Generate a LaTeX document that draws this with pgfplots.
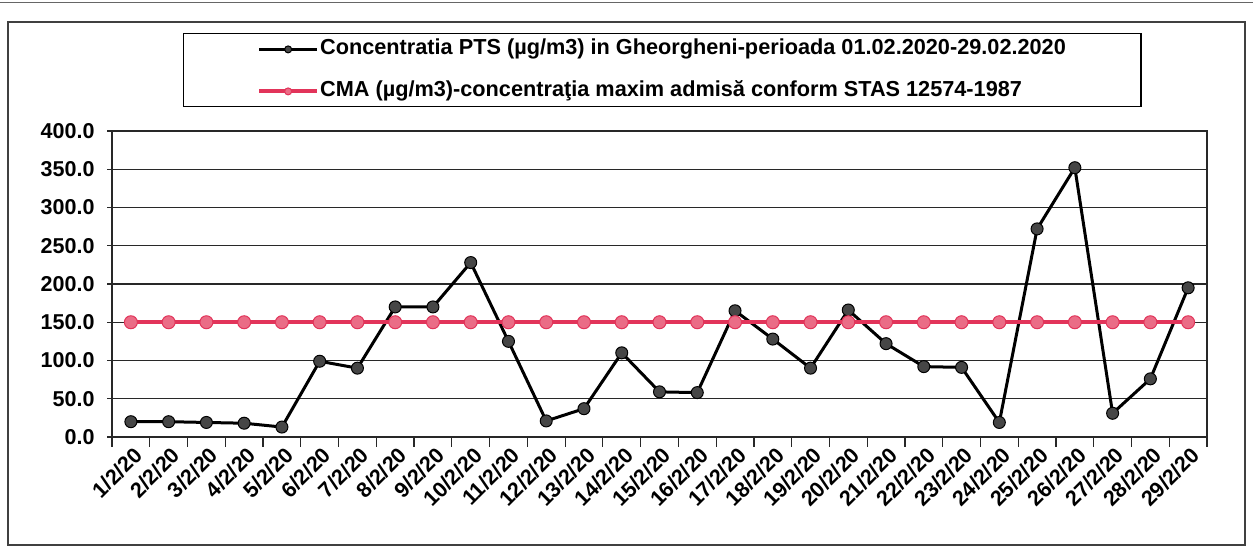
\documentclass[border=0pt]{standalone}
\usepackage{fontspec}
\setmainfont{Liberation Sans}
\usepackage{pgfplots}
\pgfplotsset{compat=1.18}
\definecolor{cmared}{RGB}{226,52,90}
\definecolor{cmafill}{RGB}{234,108,134}
\definecolor{ptsfill}{RGB}{70,70,70}
\definecolor{gridc}{RGB}{40,40,40}
\pgfplotstableread{
x y
1 20
2 20
3 19
4 18
5 13
6 99
7 90
8 170
9 170
10 228
11 125
12 21
13 37
14 110
15 59
16 58
17 165
18 128
19 90
20 166
21 122
22 92
23 91
24 19
25 272
26 352
27 31
28 76
29 195
}\ptsdata
\pgfplotstableread{
x y
1 150
2 150
3 150
4 150
5 150
6 150
7 150
8 150
9 150
10 150
11 150
12 150
13 150
14 150
15 150
16 150
17 150
18 150
19 150
20 150
21 150
22 150
23 150
24 150
25 150
26 150
27 150
28 150
29 150
}\cmadata
\begin{document}
\begin{tikzpicture}[x=1bp,y=1bp]
\useasboundingbox (0,0) rectangle (1253,552);
\fill[white] (0,0) rectangle (1253,552);
\draw[line width=1bp, black!60] (0,549) -- (1253,549);
\draw[line width=1.5bp, black!75] (8,7) rectangle (1245,530);
\begin{axis}[
  at={(112bp,115bp)}, anchor=south west,
  scale only axis, width=1095bp, height=306bp,
  xmin=0.5, xmax=29.5, ymin=0, ymax=400,
  axis line style={gridc, line width=1.2bp},
  xtick={1,...,29},
  xticklabels={1/2/20,2/2/20,3/2/20,4/2/20,5/2/20,6/2/20,7/2/20,8/2/20,9/2/20,10/2/20,11/2/20,12/2/20,13/2/20,14/2/20,15/2/20,16/2/20,17/2/20,18/2/20,19/2/20,20/2/20,21/2/20,22/2/20,23/2/20,24/2/20,25/2/20,26/2/20,27/2/20,28/2/20,29/2/20},
  minor xtick={0.5,1.5,...,29.5},
  major x tick style={draw=none},
  minor x tick style={gridc, line width=1.2bp, yshift=-5bp},
  minor tick length=10bp,
  ytick={0,50,...,400},
  major tick length=10bp,
  tick align=center,
  xtick pos=bottom, ytick pos=left,
  ytick style={gridc, line width=1.2bp},
  ymajorgrids,
  major grid style={gridc, line width=1.2bp},
  tick label style={font=\fontsize{21.5bp}{25bp}\selectfont\bfseries},
  /pgf/number format/fixed, /pgf/number format/fixed zerofill, /pgf/number format/precision=1, /pgf/number format/assume math mode=true,
  yticklabel style={xshift=-9bp},
  xticklabel style={rotate=45, anchor=east, xshift=2bp, yshift=-12bp},
  legend style={at={(0.5023,1.198)}, anchor=center, draw=black, line width=1.2bp, fill=white,
    font=\fontsize{21.7bp}{25bp}\selectfont\bfseries, inner xsep=74bp, inner ysep=5bp, row sep=21bp,
    nodes={inner sep=1bp, text height=15bp, text depth=4bp}},
  legend cell align=left,
  legend image code/.code={\draw[mark repeat=2,mark phase=2,#1,mark size=3.5bp] plot coordinates {(0bp,0bp) (29bp,0bp) (58bp,0bp)};},
]
\addplot[black, line width=3bp, mark=*, mark size=6bp, mark options={fill=ptsfill, draw=black, line width=1bp}] table[x=x,y=y] {\ptsdata};
\addlegendentry{Concentratia PTS (µg/m3) in Gheorgheni-perioada 01.02.2020-29.02.2020}
\addplot[cmared, line width=4bp, mark=*, mark size=6.5bp, mark options={fill=cmafill, draw=cmared, line width=1bp}] table[x=x,y=y] {\cmadata};
\addlegendentry{CMA (µg/m3)-concentraţia maxim admisă conform STAS 12574-1987}
\end{axis}
\end{tikzpicture}
\end{document}
